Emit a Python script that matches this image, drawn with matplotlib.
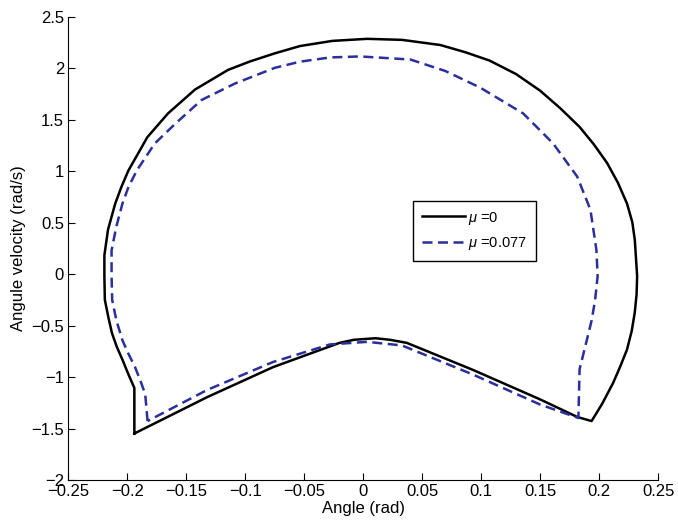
import matplotlib
matplotlib.use("Agg")
import matplotlib.pyplot as plt

plt.rcParams['font.family'] = ['Liberation Sans', 'DejaVu Sans']
plt.rcParams['mathtext.fontset'] = 'custom'
plt.rcParams['mathtext.rm'] = 'Liberation Sans'
plt.rcParams['mathtext.it'] = 'Liberation Sans:italic'

# mu = 0 trajectory (angle in rad, angular velocity in rad/s)
angle_mu0 = [-0.194, -0.194, -0.199, -0.204, -0.209, -0.213, -0.216, -0.219, -0.2194,
             -0.2194, -0.2163, -0.2102, -0.205, -0.199, -0.191, -0.183, -0.1655, -0.1426,
             -0.1146, -0.0963, -0.0750, -0.0536, -0.0262, 0.0033, 0.0328, 0.0653, 0.0867,
             0.107, 0.1294, 0.1498, 0.1670, 0.1833, 0.1955, 0.2067, 0.2158, 0.2235,
             0.2280, 0.2301, 0.2321, 0.2316, 0.2301, 0.2275, 0.2235, 0.2179, 0.2118,
             0.2026, 0.1935, 0.1813, 0.1498, 0.0928, 0.0369, 0.0226, 0.0104, -0.0079,
             -0.0201, -0.0765, -0.1324, -0.194]
vel_mu0 = [-1.548, -1.105, -0.974, -0.833, -0.702, -0.571, -0.420, -0.249, -0.018,
           0.184, 0.435, 0.687, 0.848, 1.009, 1.170, 1.332, 1.563, 1.795,
           1.986, 2.067, 2.147, 2.218, 2.268, 2.288, 2.278, 2.228, 2.157,
           2.077, 1.946, 1.785, 1.613, 1.432, 1.261, 1.080, 0.889, 0.687,
           0.506, 0.335, -0.018, -0.199, -0.370, -0.551, -0.732, -0.893, -1.055,
           -1.256, -1.427, -1.387, -1.216, -0.929, -0.667, -0.637, -0.622, -0.637,
           -0.667, -0.903, -1.195, -1.548]

# mu = 0.077 trajectory
angle_mu077 = [-0.1828, -0.1848, -0.1889, -0.1934, -0.1990, -0.2041, -0.2092, -0.2128,
               -0.2133, -0.2133, -0.2092, -0.2041, -0.1990, -0.1919, -0.1767, -0.1594,
               -0.1370, -0.1085, -0.0750, -0.0536, -0.0282, -0.0028, 0.0399, 0.0694,
               0.0989, 0.1355, 0.1609, 0.1813, 0.1925, 0.1976, 0.1986, 0.1965, 0.1935,
               0.1894, 0.1833, 0.1823, 0.1498, 0.0928, 0.0328, 0.0033, -0.0282, -0.0765,
               -0.1324, -0.1828]
vel_mu077 = [-1.427, -1.165, -1.034, -0.903, -0.773, -0.642, -0.450, -0.249,
             -0.018, 0.234, 0.466, 0.687, 0.848, 1.009, 1.271, 1.462,
             1.694, 1.855, 2.006, 2.066, 2.107, 2.117, 2.087, 1.976,
             1.815, 1.563, 1.271, 0.949, 0.627, 0.234, -0.018, -0.249, -0.450,
             -0.642, -0.924, -1.397, -1.266, -0.974, -0.692, -0.657, -0.682, -0.853,
             -1.125, -1.427]

x_ticks = [-0.25, -0.2, -0.15, -0.1, -0.05, 0, 0.05, 0.1, 0.15, 0.2, 0.25]
x_labels = ['\u22120.25', '\u22120.2', '\u22120.15', '\u22120.1', '\u22120.05', '0',
            '0.05', '0.1', '0.15', '0.2', '0.25']
y_ticks = [-2, -1.5, -1, -0.5, 0, 0.5, 1, 1.5, 2, 2.5]
y_labels = ['\u22122', '\u22121.5', '\u22121', '\u22120.5', '0', '0.5', '1', '1.5', '2', '2.5']

fig = plt.figure(figsize=(6.78, 5.32), dpi=100)
ax = fig.add_axes([0.1007, 0.0977, 0.8702, 0.8703])

ax.plot(angle_mu0, vel_mu0, color='black', lw=1.8, label=r'$\mu$ =0')
ax.plot(angle_mu077, vel_mu077, color='#2a2f9c', lw=1.8, linestyle=(0, (4, 2.2)),
        label=r'$\mu$ =0.077')

ax.set_xlim(-0.25, 0.25)
ax.set_ylim(-2, 2.5)
ax.set_xticks(x_ticks)
ax.set_xticklabels(x_labels)
ax.set_yticks(y_ticks)
ax.set_yticklabels(y_labels)
ax.tick_params(direction='in', length=5, labelsize=12, pad=3)
ax.spines['top'].set_visible(False)
ax.spines['right'].set_visible(False)

ax.set_xlabel('Angle (rad)', fontsize=12, labelpad=1)
ax.set_ylabel('Angule velocity (rad/s)', fontsize=12, labelpad=4)

leg = ax.legend(loc='upper left', bbox_to_anchor=(0.584, 0.603), fontsize=10.5,
                handlelength=3.0, fancybox=False, framealpha=1, edgecolor='black',
                borderpad=0.6, labelspacing=0.6, handletextpad=0.2,
                borderaxespad=0)
leg.get_frame().set_linewidth(1.0)

fig.savefig('out.png', dpi=100)
